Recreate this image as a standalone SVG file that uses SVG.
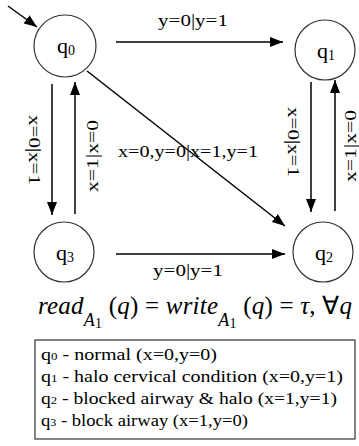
<svg xmlns="http://www.w3.org/2000/svg" width="359" height="446" viewBox="0 0 359 446">
<style>
.node circle{fill:#fff;stroke:#333;stroke-width:1.2}
.st{font-family:"Liberation Serif","Times New Roman",serif;font-size:22px;fill:#000}
.sub{font-size:14px}
.edge line{stroke:#000;stroke-width:1.5;fill:none}
.lbl{font-family:"Liberation Serif","Times New Roman",serif;font-size:17px;fill:#000}
.leg{font-family:"Liberation Serif","Times New Roman",serif;font-size:17px;fill:#000}
.f{font-family:"Liberation Serif","Times New Roman",serif;font-size:25px;fill:#000}
.it{font-style:italic}
</style>
<defs>
<marker id="ah" markerUnits="userSpaceOnUse" markerWidth="14" markerHeight="10" refX="13" refY="5" orient="auto"><path d="M0,0 L13,5 L0,10 z" fill="#000"/></marker>
</defs>
<g id="connectors" class="edge">
<line x1="8" y1="6" x2="37" y2="27" marker-end="url(#ah)"/>
<line x1="116" y1="42" x2="283" y2="42" marker-end="url(#ah)"/>
<line x1="116" y1="254" x2="285" y2="254" marker-end="url(#ah)"/>
<line x1="52" y1="84" x2="52" y2="215" marker-end="url(#ah)"/>
<line x1="75" y1="214" x2="75" y2="82" marker-end="url(#ah)"/>
<line x1="311" y1="82" x2="311" y2="212" marker-end="url(#ah)"/>
<line x1="335" y1="211" x2="335" y2="80" marker-end="url(#ah)"/>
<line x1="87" y1="71" x2="285" y2="226" marker-end="url(#ah)"/>
</g>
<g id="edge-labels" class="lbl">
<text x="193" y="26" text-anchor="middle" textLength="70" lengthAdjust="spacingAndGlyphs">y=0|y=1</text>
<text x="188" y="276" text-anchor="middle" textLength="70" lengthAdjust="spacingAndGlyphs">y=0|y=1</text>
<text x="188" y="157" text-anchor="middle" textLength="140" lengthAdjust="spacingAndGlyphs">x=0,y=0|x=1,y=1</text>
<text transform="translate(29,150) rotate(90)" text-anchor="middle" textLength="70" lengthAdjust="spacingAndGlyphs">x=0|x=1</text>
<text transform="translate(98,156) rotate(-90)" text-anchor="middle" textLength="72" lengthAdjust="spacingAndGlyphs">x=1|x=0</text>
<text transform="translate(288,142) rotate(90)" text-anchor="middle" textLength="70" lengthAdjust="spacingAndGlyphs">x=0|x=1</text>
<text transform="translate(355.5,146) rotate(-90)" text-anchor="middle" textLength="72" lengthAdjust="spacingAndGlyphs">x=1|x=0</text>
</g>
<g id="q0" class="node"><circle cx="65" cy="46" r="31"/><text class="st" x="57" y="53">q<tspan class="sub" dy="2">0</tspan></text></g>
<g id="q1" class="node"><circle cx="325" cy="50" r="30"/><text class="st" x="317" y="58">q<tspan class="sub" dy="2">1</tspan></text></g>
<g id="q3" class="node"><circle cx="64" cy="252" r="30"/><text class="st" x="56" y="260">q<tspan class="sub" dy="2">3</tspan></text></g>
<g id="q2" class="node"><circle cx="323" cy="252" r="30"/><text class="st" x="315" y="260">q<tspan class="sub" dy="2">2</tspan></text></g>
<g id="formula">
<text class="f" x="38" y="314" textLength="314"><tspan class="it">read</tspan><tspan class="it" font-size="18" dy="12">A</tspan><tspan font-size="14" dy="2">1</tspan><tspan dy="-14"> (</tspan><tspan class="it">q</tspan>) = <tspan class="it">write</tspan><tspan class="it" font-size="18" dy="12">A</tspan><tspan font-size="14" dy="2">1</tspan><tspan dy="-14"> (</tspan><tspan class="it">q</tspan>) = <tspan class="it">τ</tspan>,  ∀<tspan class="it">q</tspan></text>
</g>
<g id="legend">
<rect x="35" y="340" width="320" height="99" fill="#fff" stroke="#333" stroke-width="1.2"/>
<text class="leg" x="41" y="360" textLength="176" lengthAdjust="spacingAndGlyphs">q<tspan font-size="11">0</tspan> - normal  (x=0,y=0)</text>
<text class="leg" x="41" y="382" textLength="302" lengthAdjust="spacingAndGlyphs">q<tspan font-size="11">1</tspan> - halo cervical condition (x=0,y=1)</text>
<text class="leg" x="41" y="404" textLength="296" lengthAdjust="spacingAndGlyphs">q<tspan font-size="11">2</tspan> - blocked airway &amp; halo (x=1,y=1)</text>
<text class="leg" x="41" y="426" textLength="207" lengthAdjust="spacingAndGlyphs">q<tspan font-size="11">3</tspan> - block airway (x=1,y=0)</text>
</g>
</svg>
